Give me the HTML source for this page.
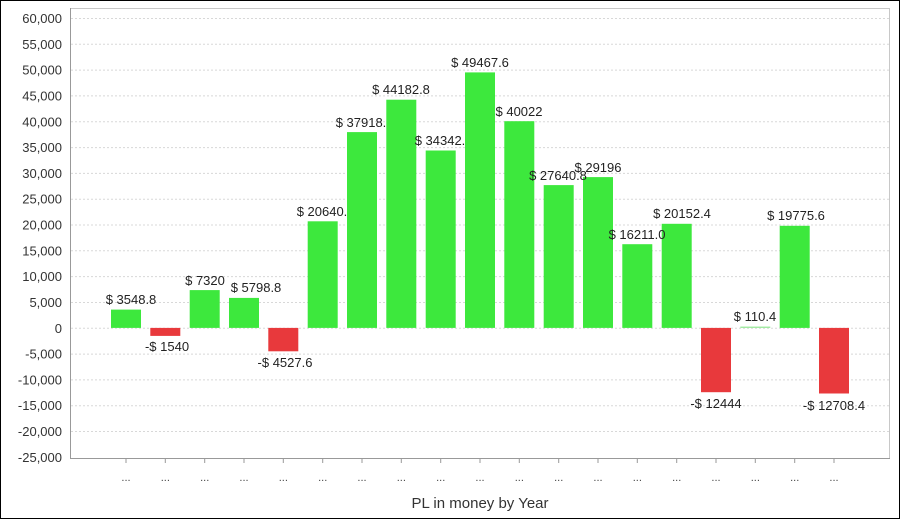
<!DOCTYPE html>
<html><head><meta charset="utf-8"><style>
html,body{margin:0;padding:0;background:#fff}
svg{display:block;font-family:"Liberation Sans",Arial,sans-serif}
</style></head><body>
<svg width="900" height="519" viewBox="0 0 900 519" xmlns="http://www.w3.org/2000/svg">
<rect x="0.5" y="0.5" width="899" height="518" fill="#fff" stroke="#000" stroke-width="1"/>
<rect x="70.5" y="8.5" width="819" height="450" fill="#fff" stroke="#c8c8c8" stroke-width="1"/>
<g stroke="#d8d8d8" stroke-dasharray="2,2" stroke-width="1">
<line x1="71" x2="889" y1="18.5" y2="18.5"/><line x1="71" x2="889" y1="44.3" y2="44.3"/><line x1="71" x2="889" y1="70.1" y2="70.1"/><line x1="71" x2="889" y1="95.9" y2="95.9"/><line x1="71" x2="889" y1="121.8" y2="121.8"/><line x1="71" x2="889" y1="147.6" y2="147.6"/><line x1="71" x2="889" y1="173.4" y2="173.4"/><line x1="71" x2="889" y1="199.2" y2="199.2"/><line x1="71" x2="889" y1="225.0" y2="225.0"/><line x1="71" x2="889" y1="250.8" y2="250.8"/><line x1="71" x2="889" y1="276.6" y2="276.6"/><line x1="71" x2="889" y1="302.5" y2="302.5"/><line x1="71" x2="889" y1="328.3" y2="328.3"/><line x1="71" x2="889" y1="354.1" y2="354.1"/><line x1="71" x2="889" y1="379.9" y2="379.9"/><line x1="71" x2="889" y1="405.7" y2="405.7"/><line x1="71" x2="889" y1="431.5" y2="431.5"/>
</g>
<line x1="70.5" y1="8" x2="70.5" y2="459" stroke="#999"/>
<line x1="70" y1="458.5" x2="890" y2="458.5" stroke="#999"/>
<g font-size="13" fill="#333" text-anchor="end">
<text x="62" y="23">60,000</text><text x="62" y="48.8">55,000</text><text x="62" y="74.6">50,000</text><text x="62" y="100.4">45,000</text><text x="62" y="126.3">40,000</text><text x="62" y="152.1">35,000</text><text x="62" y="177.9">30,000</text><text x="62" y="203.7">25,000</text><text x="62" y="229.5">20,000</text><text x="62" y="255.3">15,000</text><text x="62" y="281.1">10,000</text><text x="62" y="307">5,000</text><text x="62" y="332.8">0</text><text x="62" y="358.6">-5,000</text><text x="62" y="384.4">-10,000</text><text x="62" y="410.2">-15,000</text><text x="62" y="436">-20,000</text><text x="62" y="461.8">-25,000</text>
</g>
<g fill="#3de83d">
<rect x="111" y="309.6" width="30" height="18.3"/>
<rect x="189.7" y="290.1" width="30" height="37.8"/>
<rect x="229" y="297.9" width="30" height="30"/>
<rect x="307.7" y="221.3" width="30" height="106.6"/>
<rect x="347" y="132.1" width="30" height="195.8"/>
<rect x="386.3" y="99.7" width="30" height="228.2"/>
<rect x="425.7" y="150.5" width="30" height="177.4"/>
<rect x="465" y="72.4" width="30" height="255.5"/>
<rect x="504.3" y="121.2" width="30" height="206.7"/>
<rect x="543.7" y="185.1" width="30" height="142.8"/>
<rect x="583" y="177.1" width="30" height="150.8"/>
<rect x="622.3" y="244.2" width="30" height="83.7"/>
<rect x="661.7" y="223.8" width="30" height="104.1"/>
<rect x="740.3" y="326.6" width="30" height="1.3" fill="#9be89b"/>
<rect x="779.7" y="225.8" width="30" height="102.1"/>
</g>
<g fill="#e8393c">
<rect x="150.3" y="327.9" width="30" height="8"/>
<rect x="268.3" y="327.9" width="30" height="23.4"/>
<rect x="701" y="327.9" width="30" height="64.3"/>
<rect x="819" y="327.9" width="30" height="65.6"/>
</g>
<g font-size="13" fill="#222" text-anchor="middle">
<text x="131" y="304">$ 3548.8</text>
<text x="167" y="351">-$ 1540</text>
<text x="205" y="285">$ 7320</text>
<text x="256" y="292">$ 5798.8</text>
<text x="285" y="367">-$ 4527.6</text>
<text x="322" y="216">$ 20640.</text>
<text x="361" y="127">$ 37918.</text>
<text x="401" y="94">$ 44182.8</text>
<text x="440" y="145">$ 34342.</text>
<text x="480" y="67">$ 49467.6</text>
<text x="519" y="116">$ 40022</text>
<text x="558" y="180">$ 27640.8</text>
<text x="598" y="172">$ 29196</text>
<text x="637" y="239">$ 16211.0</text>
<text x="682" y="218">$ 20152.4</text>
<text x="716" y="408">-$ 12444</text>
<text x="755" y="321">$ 110.4</text>
<text x="796" y="220">$ 19775.6</text>
<text x="834" y="410">-$ 12708.4</text>
</g>
<g stroke="#999">
<line x1="126" x2="126" y1="459" y2="463"/><line x1="165.3" x2="165.3" y1="459" y2="463"/><line x1="204.7" x2="204.7" y1="459" y2="463"/><line x1="244" x2="244" y1="459" y2="463"/><line x1="283.3" x2="283.3" y1="459" y2="463"/><line x1="322.7" x2="322.7" y1="459" y2="463"/><line x1="362" x2="362" y1="459" y2="463"/><line x1="401.3" x2="401.3" y1="459" y2="463"/><line x1="440.7" x2="440.7" y1="459" y2="463"/><line x1="480" x2="480" y1="459" y2="463"/><line x1="519.3" x2="519.3" y1="459" y2="463"/><line x1="558.7" x2="558.7" y1="459" y2="463"/><line x1="598" x2="598" y1="459" y2="463"/><line x1="637.3" x2="637.3" y1="459" y2="463"/><line x1="676.7" x2="676.7" y1="459" y2="463"/><line x1="716" x2="716" y1="459" y2="463"/><line x1="755.3" x2="755.3" y1="459" y2="463"/><line x1="794.7" x2="794.7" y1="459" y2="463"/><line x1="834" x2="834" y1="459" y2="463"/>
</g>
<g font-size="11" fill="#444" text-anchor="middle">
<text x="126" y="481">...</text><text x="165.3" y="481">...</text><text x="204.7" y="481">...</text><text x="244" y="481">...</text><text x="283.3" y="481">...</text><text x="322.7" y="481">...</text><text x="362" y="481">...</text><text x="401.3" y="481">...</text><text x="440.7" y="481">...</text><text x="480" y="481">...</text><text x="519.3" y="481">...</text><text x="558.7" y="481">...</text><text x="598" y="481">...</text><text x="637.3" y="481">...</text><text x="676.7" y="481">...</text><text x="716" y="481">...</text><text x="755.3" y="481">...</text><text x="794.7" y="481">...</text><text x="834" y="481">...</text>
</g>
<text x="480" y="508" font-size="15" fill="#333" text-anchor="middle">PL in money by Year</text>
</svg>
</body></html>
